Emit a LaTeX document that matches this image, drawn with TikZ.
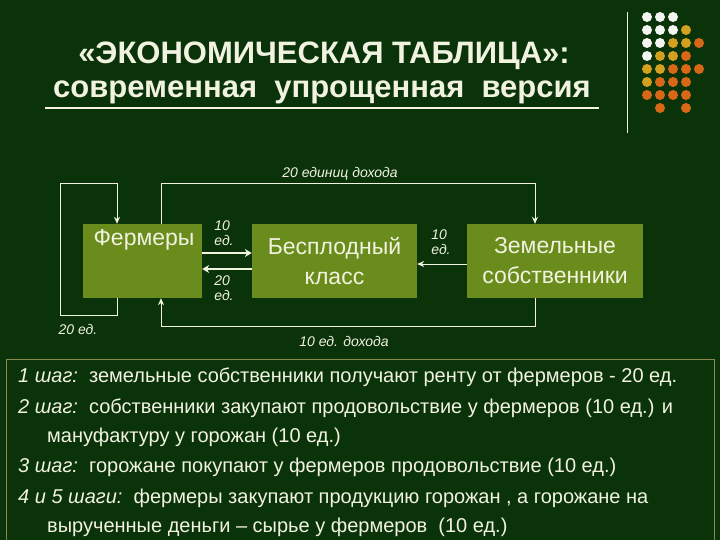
\documentclass[tikz,border=0pt]{standalone}
\usepackage{fontspec}
\setmainfont{Liberation Sans}
\usetikzlibrary{arrows.meta}
\definecolor{bg}{HTML}{0A330A}
\definecolor{boxf}{HTML}{6A8C1C}
\definecolor{txt}{HTML}{F2F2E0}
\definecolor{frame}{HTML}{8A8A50}
\definecolor{dW}{HTML}{F4F4F0}
\definecolor{dY}{HTML}{D4A020}
\definecolor{dO}{HTML}{D86818}
\tikzset{
 blk/.style={fill=boxf,draw=none,text=txt,font=\fontsize{23}{26}\selectfont,align=center,inner sep=0pt},
 lbl/.style={text=txt,font=\fontsize{14}{15}\selectfont\itshape,align=left,inner sep=0pt},
 ln/.style={draw=txt,line width=1pt},
 ar/.style={ln,-{Stealth[length=7pt,width=6pt]}},
 ar2/.style={draw=txt,line width=2pt,-{Stealth[length=7pt,width=8pt]}},
 stp/.style={text=txt,anchor=west,inner sep=0pt,font=\fontsize{20}{23}\selectfont},
 ttl/.style={text=txt,font=\fontsize{31}{34}\selectfont\bfseries}
}
\begin{document}
\begin{tikzpicture}[x=1pt,y=-1pt]
\fill[bg] (0,0) rectangle (720,540);
\useasboundingbox (0,0) rectangle (720,540);
% title
\node[ttl] (t1) at (324,56) {«ЭКОНОМИЧЕСКАЯ ТАБЛИЦА»:};
\node[ttl] (t2) at (322,92) {современная\ \ упрощенная\ \ версия};
\draw[txt,line width=1.5pt] (45,108) -- (599,108);
% decoration
\draw[txt,line width=1pt] (627,12) -- (627,133);
\foreach \r/\cols in {0/{W,W,W,N,N},1/{W,W,W,Y,N},2/{W,W,Y,Y,O},3/{W,Y,Y,O,N},4/{Y,Y,O,O,O},5/{Y,O,O,O,N},6/{O,O,O,O,N},7/{N,O,N,O,N}}{
 \foreach \c [count=\i from 0] in \cols {
  \if\c N\else
   \fill[d\c] (647+13*\i,17+13*\r) circle (5);
  \fi
 }
}
% boxes
\node[blk,minimum width=119pt,minimum height=74pt] (f) at (142.5,261) {};
\node[text=txt,font=\fontsize{23}{26}\selectfont] (ft) at (144,240) {Фермеры};
\node[blk,minimum width=165pt,minimum height=74pt] (b) at (334.5,261) {Бесплодный\\[4pt]класс};
\node[blk,minimum width=176pt,minimum height=74pt] (z) at (555,261) {Земельные\\[4pt]собственники};
% connectors
\coordinate (c1) at (161,184); \coordinate (c2) at (535,184);
\draw[ar] (f.north -| c1) -- (c1) -- (c2) -- (z.north -| c2);
\coordinate (l1) at (117,315); \coordinate (l2) at (60,315); \coordinate (l3) at (60,184); \coordinate (l4) at (117,184);
\draw[ar] (f.south -| l1) -- (l1) -- (l2) -- (l3) -- (l4) -- (f.north -| l4);
\coordinate (d1) at (535,326); \coordinate (d2) at (161,326);
\draw[ar] (z.south -| d1) -- (d1) -- (d2) -- (f.south -| d2);
\coordinate (h1) at (0,253); \coordinate (h2) at (0,269); \coordinate (h3) at (0,264);
\draw[ar2] (f.east |- h1) -- (b.west |- h1);
\draw[ar2] (b.west |- h2) -- (f.east |- h2);
\draw[ar] (z.west |- h3) -- (b.east |- h3);
% labels
\node[lbl,anchor=center] (L1) at (340,174) {20 единиц дохода};
\node[lbl] (L2) at (224,233) {10\\ед.};
\node[lbl] (L3) at (224,288) {20\\ед.};
\node[lbl] (L4) at (441,242) {10\\ед.};
\node[lbl] (L5) at (78,329) {20 ед.};
\node[lbl] (L6) at (344,341) {10 ед. дохода};
% steps
\draw[frame,line width=1pt] (6,359) rectangle (714,545);
\node[stp] (s1) at (18,377) {\textit{1 шаг:}\ \ земельные собственники получают ренту от фермеров - 20 ед.};
\node[stp] (s2) at (18,408) {\textit{2 шаг:}\ \ собственники закупают продовольствие у фермеров (10 ед.) и};
\node[stp] (s2b) at (47,437) {мануфактуру у горожан (10 ед.)};
\node[stp] (s3) at (18,467) {\textit{3 шаг:}\ \ горожане покупают у фермеров продовольствие (10 ед.)};
\node[stp] (s4) at (18,498) {\textit{4 и 5 шаги:}\ \ фермеры закупают продукцию горожан , а горожане на};
\node[stp] (s4b) at (47,527) {вырученные деньги – сырье у фермеров\ \ (10 ед.)};
\end{tikzpicture}
\end{document}
